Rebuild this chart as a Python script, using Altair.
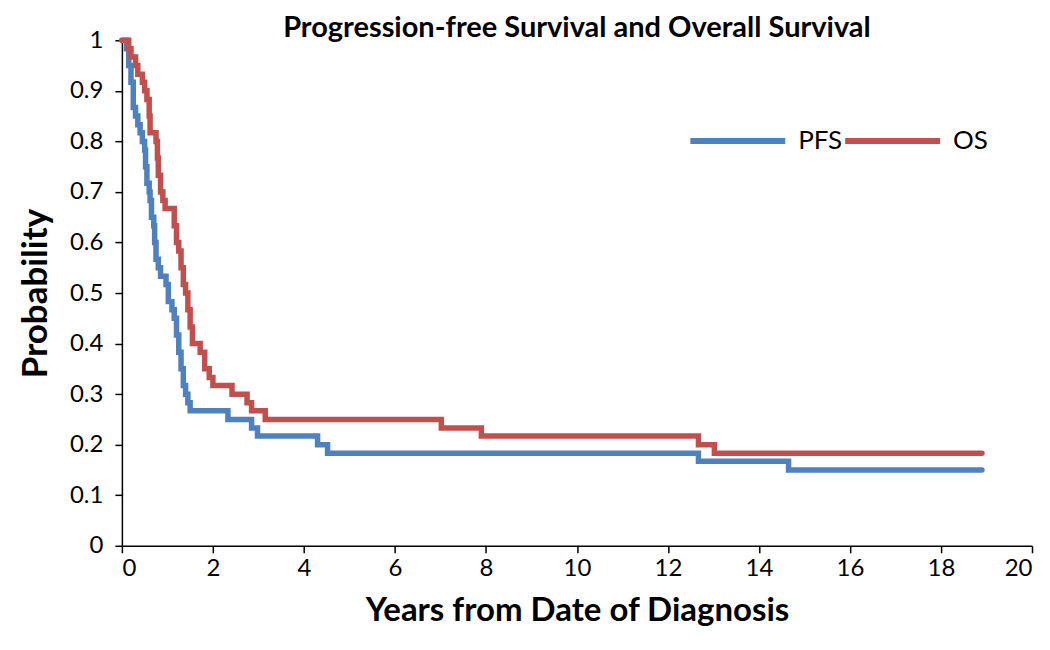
import altair as alt
import pandas as pd

# PFS (Kaplan-Meier step points): time in years, survival probability
pfs_t = [0, 0.1, 0.15, 0.2, 0.25, 0.3, 0.35, 0.4, 0.45, 0.5, 0.52, 0.55, 0.6, 0.62, 0.65, 0.7,
         0.72, 0.75, 0.8, 0.85, 0.97, 1.02, 1.1, 1.15, 1.2, 1.25, 1.3, 1.35, 1.4, 1.45, 1.5,
         2.33, 2.85, 2.98, 4.3, 4.52, 12.67, 14.65, 18.9]
pfs_s = [1.0, 0.983, 0.95, 0.917, 0.867, 0.85, 0.833, 0.817, 0.8, 0.783, 0.75, 0.717, 0.7, 0.683, 0.65, 0.633,
         0.6, 0.567, 0.55, 0.533, 0.517, 0.483, 0.467, 0.45, 0.417, 0.383, 0.35, 0.317, 0.3, 0.283, 0.267,
         0.25, 0.233, 0.217, 0.2, 0.183, 0.167, 0.15, 0.15]

# OS
os_t = [0, 0.15, 0.2, 0.3, 0.35, 0.45, 0.5, 0.55, 0.6, 0.62, 0.75, 0.78, 0.8, 0.85, 0.9, 0.95,
        1.15, 1.2, 1.25, 1.3, 1.35, 1.4, 1.45, 1.5, 1.55, 1.72, 1.82, 1.92, 2.0, 2.42, 2.75,
        2.85, 3.15, 7.02, 7.9, 12.67, 13.02, 18.9]
os_s = [1.0, 0.983, 0.967, 0.95, 0.933, 0.917, 0.9, 0.883, 0.85, 0.817, 0.8, 0.767, 0.733, 0.7, 0.683, 0.667,
        0.633, 0.6, 0.583, 0.55, 0.517, 0.5, 0.467, 0.433, 0.4, 0.383, 0.35, 0.333, 0.317, 0.3, 0.283,
        0.267, 0.25, 0.233, 0.217, 0.2, 0.183, 0.183]

series_names = ["PFS", "OS"]
series_colors = ["#4F81BD", "#C0504D"]
title_text = "Progression-free Survival and Overall Survival"

df = pd.concat([
    pd.DataFrame({"t": pfs_t, "s": pfs_s, "series": "PFS", "ord": range(len(pfs_t))}),
    pd.DataFrame({"t": os_t, "s": os_s, "series": "OS", "ord": range(len(os_t))}),
])

FONT = "Lato"
W, H = 911, 506

lines = alt.Chart(df).mark_line(
    interpolate="step-after", strokeWidth=5.5, strokeCap="round"
).encode(
    x=alt.X("t:Q", title="Years from Date of Diagnosis",
            scale=alt.Scale(domain=[0, 20], nice=False),
            axis=alt.Axis(values=list(range(0, 21, 2)), grid=False, labelPadding=4,
                          titlePadding=14, titleFontSize=33)),
    y=alt.Y("s:Q", title="Probability",
            scale=alt.Scale(domain=[0, 1], nice=False),
            axis=alt.Axis(values=[i / 10 for i in range(11)], format="~g", grid=False,
                          labelPadding=12, titlePadding=16, titleFontSize=35)),
    color=alt.Color("series:N", scale=alt.Scale(domain=series_names, range=series_colors),
                    legend=alt.Legend(orient="none", legendX=566, legendY=50, direction="horizontal",
                                      title=None, symbolType="stroke", symbolSize=9025,
                                      symbolStrokeWidth=6, labelFontSize=26, labelFont=FONT,
                                      labelColor="black",
                                      columnPadding=-12, labelOffset=10)),
    detail="series:N",
    order="ord:Q",
)

title = alt.Chart(pd.DataFrame({"label": [title_text]})).mark_text(
    font=FONT, fontSize=29, fontWeight="bold", color="black", align="center", baseline="middle"
).encode(
    x=alt.value(W / 2), y=alt.value(-12), text="label:N"
)

chart = alt.layer(lines, title).properties(
    width=W, height=H,
    autosize=alt.AutoSizeParams(type="none"),
    padding={"left": 114, "top": 32, "right": 10, "bottom": 100},
).configure_view(stroke=None).configure_axis(
    domainColor="black", domainWidth=1.5, tickColor="black", tickWidth=1.5, tickSize=7,
    labelFont=FONT, labelFontSize=24, labelColor="black",
    titleFont=FONT, titleFontWeight="bold", titleColor="black",
)

chart.save("out.html", embed_options={"renderer": "svg", "actions": False})
